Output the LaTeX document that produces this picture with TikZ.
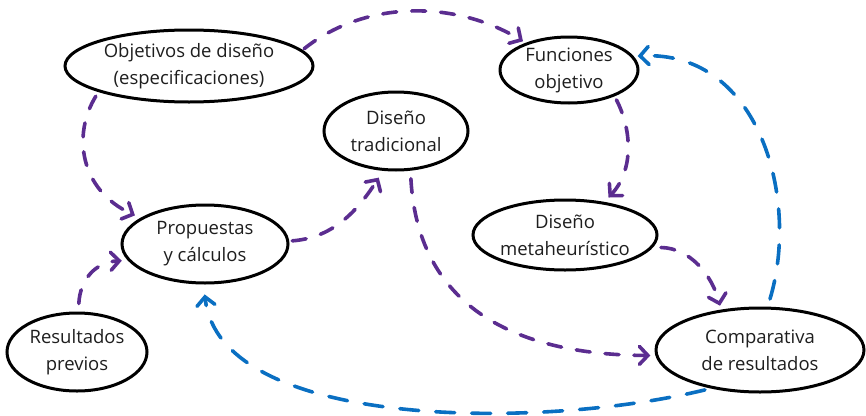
\documentclass[tikz,border=0pt]{standalone}
\usepackage{fontspec}
\setmainfont{Open Sans}
\usetikzlibrary{shapes.geometric,arrows.meta}
\definecolor{flowpurple}{HTML}{5B2D90}
\definecolor{flowblue}{HTML}{0A6FC2}
\definecolor{ink}{HTML}{1E1E1E}
\tikzset{
  bubble/.style={ellipse, draw=black, line width=3pt, inner sep=0pt,
    align=center, text=ink, font=\fontsize{18.5}{27}\selectfont},
  flow/.style={line width=3.6pt, line cap=round,
    dash pattern=on 14pt off 15pt,
    -{Straight Barb[length=8.5pt,width=18pt,line cap=round]}},
  purpleflow/.style={flow, draw=flowpurple},
  blueflow/.style={flow, draw=flowblue, dash pattern=on 19pt off 17pt}
}
\begin{document}
\begin{tikzpicture}[x=1pt,y=-1pt]
\useasboundingbox (0,0) rectangle (866,415);

% nodes
\node[bubble, minimum width=248pt, minimum height=72pt] (obj) at (189,66) {Objetivos de diseño\\(especificaciones)};
\node[bubble, minimum width=138pt, minimum height=66pt] (fun) at (569,70) {Funciones\\objetivo};
\node[bubble, minimum width=144pt, minimum height=78pt] (trad) at (396,131) {Diseño\\tradicional};
\node[bubble, minimum width=166pt, minimum height=78pt] (prop) at (205,244) {Propuestas\\y cálculos};
\node[bubble, minimum width=184pt, minimum height=70pt] (meta) at (565,235) {Diseño\\metaheurístico};
\node[bubble, minimum width=140pt, minimum height=78pt] (prev) at (77,352) {Resultados\\previos};
\node[bubble, minimum width=208pt, minimum height=84pt] (comp) at (760,350) {Comparativa\\de resultados};

% purple flows
\draw[purpleflow, shorten <=2pt, shorten >=3pt] (obj.8) .. controls (365,0) and (455,0) .. (fun.148);
\draw[purpleflow, shorten <=5pt, shorten >=6pt] (obj.196) .. controls (72,135) and (80,190) .. (prop.158);
\draw[purpleflow, shorten <=8pt, shorten >=6pt] (prev.88) .. controls (80,280) and (95,262) .. (prop.192);
\draw[purpleflow, shorten <=3pt, shorten >=8pt] (prop.2) .. controls (330,238) and (355,215) .. (trad.252);
\draw[purpleflow, shorten <=8pt, shorten >=5pt] (trad.290) .. controls (418,310) and (520,355) .. (comp.183);
\draw[purpleflow, shorten <=4pt, shorten >=6pt] (fun.-30) .. controls (632,130) and (634,170) .. (meta.40);
\draw[purpleflow, shorten <=8pt, shorten >=4pt] (meta.-8) .. controls (690,248) and (712,275) .. (comp.134);

% blue flows
\draw[blueflow, shorten <=8pt, shorten >=4pt] (comp.80) .. controls (800,200) and (760,50) .. (fun.12);
\draw[blueflow, shorten <=6pt, shorten >=10pt] (comp.218) .. controls (540,430) and (220,430) .. (prop.268);
\end{tikzpicture}
\end{document}
